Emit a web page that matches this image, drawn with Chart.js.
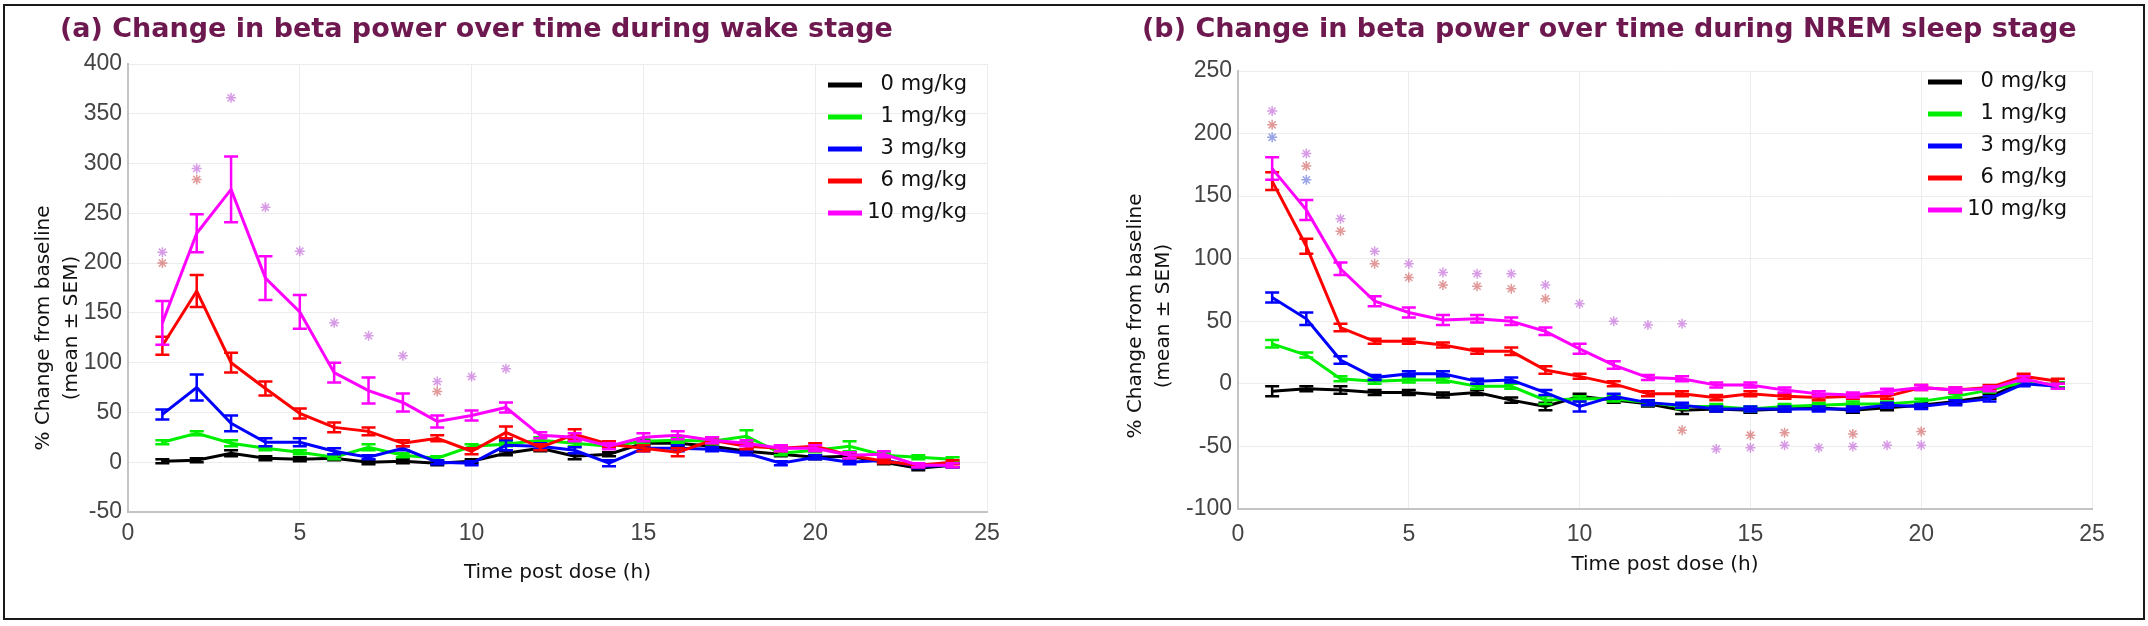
<!DOCTYPE html>
<html>
<head>
<meta charset="utf-8">
<script src="https://cdn.jsdelivr.net/npm/chart.js@4.4.0/dist/chart.umd.min.js"></script>
<style>
  html, body { margin: 0; padding: 0; background: #fff; }
  #page { position: relative; width: 2148px; height: 626px; overflow: hidden; background: #fff; }
  canvas { position: absolute; top: 0; }
  .ttl { position: absolute; top: 12px; font: bold 27px "DejaVu Sans"; color: #6e1850; white-space: nowrap; line-height: 32px; }
  #frame { position: absolute; left: 3px; top: 4px; width: 2138px; height: 612px; border: 2px solid #1a1a1a; pointer-events: none; }
</style>
</head>
<body>
<div id="page">
  <canvas id="wake" width="1074" height="626" style="left:0"></canvas>
  <canvas id="nrem" width="1074" height="626" style="left:1074px"></canvas>
  <div class="ttl" style="left:60px">(a) Change in beta power over time during wake stage</div>
  <div class="ttl" style="left:1142px">(b) Change in beta power over time during NREM sleep stage</div>
  <div id="frame"></div>
</div>
<script>
const hours = [1, 2, 3, 4, 5, 6, 7, 8, 9, 10, 11, 12, 13, 14, 15, 16, 17, 18, 19, 20, 21, 22, 23, 24];
const doses = ['0 mg/kg', '1 mg/kg', '3 mg/kg', '6 mg/kg', '10 mg/kg'];
const doseColors = ['#000000', '#00ee00', '#0000ff', '#ff0000', '#ff00ff'];

const xTickValues = [0, 5, 10, 15, 20, 25];
const wakeYTicks = [-50, 0, 50, 100, 150, 200, 250, 300, 350, 400];
const nremYTicks = [-100, -50, 0, 50, 100, 150, 200, 250];

// (a) wake stage, mean and SEM
const wake0 = [1, 2, 9, 4, 3, 4, 0, 1, -1, 1, 9, 14, 6, 8, 19, 19, 16, 11, 8, 5, 6, 0, -6, -3];
const wake0Sem = [2, 2, 3, 2, 2, 2, 2, 2, 2, 2, 2, 3, 3, 2, 3, 3, 2, 2, 2, 2, 2, 2, 2, 2];
const wake1 = [20, 29, 19, 14, 10, 5, 15, 7, 4, 16, 18, 22, 19, 16, 21, 22, 21, 26, 9, 12, 16, 7, 5, 3];
const wake1Sem = [2, 2, 3, 2, 2, 2, 3, 2, 2, 2, 2, 3, 3, 2, 3, 3, 3, 6, 2, 2, 5, 2, 2, 2];
const wake3 = [48, 75, 39, 20, 20, 11, 5, 14, 0, -1, 17, 16, 12, -1, 14, 14, 13, 9, -1, 5, 0, 2, -4, -3];
const wake3Sem = [5, 13, 8, 4, 4, 3, 2, 2, 2, 2, 5, 3, 3, 3, 3, 3, 2, 2, 2, 2, 2, 2, 2, 2];
const wake6 = [117, 172, 100, 74, 49, 35, 31, 19, 24, 11, 30, 15, 28, 18, 14, 10, 22, 16, 14, 16, 7, 1, -3, 0];
const wake6Sem = [9, 16, 10, 7, 5, 5, 4, 3, 3, 3, 6, 3, 5, 3, 3, 4, 3, 3, 3, 3, 3, 2, 2, 2];
const wake10 = [140, 230, 274, 185, 151, 90, 72, 60, 41, 47, 55, 27, 25, 16, 25, 27, 22, 19, 14, 14, 7, 8, -3, -3];
const wake10Sem = [22, 19, 33, 22, 17, 10, 13, 9, 6, 5, 5, 3, 4, 3, 4, 4, 3, 3, 3, 3, 3, 3, 2, 2];
// significance markers [hour, height]
const wakeStar6 = [[1, 200], [2, 284], [9, 71]];
const wakeStar10 = [[1, 211], [2, 295], [3, 366], [4, 256], [5, 212], [6, 140], [7, 127], [8, 107], [9, 81], [10, 86], [11, 94]];

// (b) NREM sleep stage, mean and SEM
const nrem0 = [-6, -4, -5, -7, -7, -9, -7, -13, -18, -10, -13, -16, -21, -20, -21, -20, -19, -21, -19, -17, -14, -10, 1, -1];
const nrem0Sem = [4, 2, 3, 2, 2, 2, 2, 2, 3, 2, 2, 2, 3, 2, 2, 2, 2, 2, 2, 2, 2, 2, 2, 2];
const nrem1 = [32, 23, 4, 2, 3, 3, -2, -2, -13, -12, -12, -15, -18, -18, -20, -18, -17, -16, -16, -14, -10, -5, 1, -1];
const nrem1Sem = [3, 2, 2, 2, 2, 2, 2, 2, 3, 2, 2, 2, 2, 2, 2, 2, 2, 2, 2, 2, 2, 2, 2, 2];
const nrem3 = [69, 52, 19, 5, 8, 8, 2, 3, -7, -18, -10, -15, -17, -20, -20, -20, -20, -20, -17, -18, -15, -12, 0, -2];
const nrem3Sem = [4, 5, 3, 2, 2, 2, 2, 2, 2, 4, 2, 2, 2, 2, 2, 2, 2, 2, 2, 2, 2, 2, 2, 2];
const nrem6 = [162, 110, 45, 34, 34, 31, 26, 26, 11, 6, 0, -8, -8, -11, -8, -10, -11, -10, -10, -3, -5, -3, 6, 2];
const nrem6Sem = [7, 6, 3, 2, 2, 2, 2, 3, 3, 2, 2, 2, 2, 2, 2, 2, 2, 2, 2, 2, 2, 2, 2, 2];
const nrem10 = [172, 139, 92, 66, 57, 51, 52, 50, 42, 28, 15, 5, 4, -1, -1, -5, -8, -9, -6, -3, -5, -4, 4, -2];
const nrem10Sem = [9, 8, 5, 4, 4, 4, 3, 3, 3, 4, 3, 2, 2, 2, 2, 2, 2, 2, 2, 2, 2, 2, 2, 2];
const nremStar3 = [[1, 197], [2, 163]];
const nremStar6 = [[1, 207], [2, 174], [3, 122], [4, 96], [5, 85], [6, 79], [7, 78], [8, 76], [9, 68], [13, -37], [15, -41], [16, -39], [18, -40], [20, -38]];
const nremStar10 = [[1, 218], [2, 184], [3, 132], [4, 106], [5, 96], [6, 89], [7, 88], [8, 88], [9, 79], [10, 64], [11, 50], [12, 47], [13, 48],
  [14, -52], [15, -51], [16, -49], [17, -51], [18, -50], [19, -49], [20, -49]];

const starColors = { 3: 'rgba(70,90,210,0.55)', 6: 'rgba(200,70,70,0.55)', 10: 'rgba(190,90,215,0.6)' };

// error bars with caps, drawn right after each line
const errorBars = {
  id: 'errorBars',
  afterDatasetDraw(chart, args) {
    const ds = chart.data.datasets[args.index];
    if (!ds.sem) return;
    const y = chart.scales.y, ctx = chart.ctx;
    ctx.save();
    ctx.strokeStyle = ds.borderColor;
    ctx.lineWidth = 2.5;
    args.meta.data.forEach((pt, i) => {
      const v = ds.data[i].y, e = ds.sem[i];
      const top = y.getPixelForValue(v + e), bot = y.getPixelForValue(v - e);
      ctx.beginPath();
      ctx.moveTo(pt.x, top); ctx.lineTo(pt.x, bot);
      ctx.moveTo(pt.x - 7, top); ctx.lineTo(pt.x + 7, top);
      ctx.moveTo(pt.x - 7, bot); ctx.lineTo(pt.x + 7, bot);
      ctx.stroke();
    });
    ctx.restore();
  }
};

// legend inside the plot, text right aligned like the original
const doseLegend = {
  id: 'doseLegend',
  afterDatasetsDraw(chart, args, opts) {
    const { ctx, chartArea } = chart;
    ctx.save();
    ctx.font = '21px "DejaVu Sans"';
    ctx.textAlign = 'right';
    ctx.textBaseline = 'middle';
    chart.data.datasets.filter(d => d.sem).forEach((d, i) => {
      const yy = chartArea.top + opts.top + i * opts.step;
      ctx.strokeStyle = d.borderColor;
      ctx.lineWidth = 5;
      ctx.beginPath();
      ctx.moveTo(chartArea.right - opts.lineStart, yy);
      ctx.lineTo(chartArea.right - opts.lineEnd, yy);
      ctx.stroke();
      ctx.fillStyle = '#111';
      ctx.fillText(d.label, chartArea.right - opts.textRight, yy);
    });
    ctx.restore();
  }
};

// two line rotated y title
const sideTitle = {
  id: 'sideTitle',
  afterDraw(chart, args, opts) {
    const ctx = chart.ctx;
    ctx.save();
    ctx.font = '20px "DejaVu Sans"';
    ctx.fillStyle = '#111';
    ctx.textAlign = 'center';
    ctx.textBaseline = 'middle';
    opts.lines.forEach((t, i) => {
      ctx.save();
      ctx.translate(opts.x[i], opts.y);
      ctx.rotate(-Math.PI / 2);
      ctx.fillText(t, 0, 0);
      ctx.restore();
    });
    ctx.restore();
  }
};

const tickFont = { family: '"Liberation Sans Narrow", "Liberation Sans", Arial', size: 23 };

function makeChart(id, means, sems, stars, yTicks, box) {
  const datasets = means.map((m, i) => ({
    label: doses[i],
    data: hours.map((h, j) => ({ x: h, y: m[j] })),
    sem: sems[i],
    borderColor: doseColors[i],
    backgroundColor: doseColors[i],
    borderWidth: 3,
    pointRadius: 0,
    tension: 0,
    fill: false,
    order: 5 - i
  }));
  stars.forEach(s => {
    datasets.push({
      data: s.pts.map(p => ({ x: p[0], y: p[1] })),
      showLine: false,
      pointStyle: 'star',
      pointRadius: 5,
      pointBorderWidth: 1.5,
      pointBorderColor: s.color,
      borderColor: s.color,
      order: 0
    });
  });

  return new Chart(document.getElementById(id), {
    type: 'line',
    data: { datasets: datasets },
    plugins: [errorBars, doseLegend, sideTitle],
    options: {
      responsive: false,
      animation: false,
      events: [],
      layout: { padding: { top: box.top, right: box.right, bottom: 0, left: 0 } },
      plugins: {
        legend: { display: false },
        tooltip: { enabled: false },
        doseLegend: box.legend,
        sideTitle: { lines: ['% Change from baseline', '(mean \u00b1 SEM)'], x: box.titleX, y: box.titleY }
      },
      scales: {
        x: {
          type: 'linear', min: 0, max: 25,
          afterBuildTicks: s => { s.ticks = xTickValues.map(v => ({ value: v })); },
          afterFit: s => { s.height = box.xh; },
          ticks: { font: tickFont, color: '#444', padding: box.xPad },
          grid: { color: '#ececec', drawTicks: false },
          border: { color: '#c4c4c4', width: 2 },
          title: { display: true, text: 'Time post dose (h)', color: '#111',
                   font: { family: '"DejaVu Sans"', size: 20 }, padding: { top: 0, bottom: box.xTitlePad } }
        },
        y: {
          min: yTicks[0], max: yTicks[yTicks.length - 1],
          afterBuildTicks: s => { s.ticks = yTicks.map(v => ({ value: v })); },
          afterFit: s => { s.width = box.yw; },
          ticks: { font: tickFont, color: '#444', padding: 6 },
          grid: { color: '#ececec', drawTicks: false },
          border: { color: '#c4c4c4', width: 2 }
        }
      }
    }
  });
}

makeChart('wake',
  [wake0, wake1, wake3, wake6, wake10],
  [wake0Sem, wake1Sem, wake3Sem, wake6Sem, wake10Sem],
  [{ pts: wakeStar6, color: starColors[6] }, { pts: wakeStar10, color: starColors[10] }],
  wakeYTicks,
  { top: 64, right: 87, yw: 128, xh: 114, xPad: 8, xTitlePad: 41,
    titleX: [44, 72], titleY: 328,
    legend: { top: 21, step: 32, lineStart: 159, lineEnd: 125, textRight: 20 } });

makeChart('nrem',
  [nrem0, nrem1, nrem3, nrem6, nrem10],
  [nrem0Sem, nrem1Sem, nrem3Sem, nrem6Sem, nrem10Sem],
  [{ pts: nremStar3, color: starColors[3] }, { pts: nremStar6, color: starColors[6] }, { pts: nremStar10, color: starColors[10] }],
  nremYTicks,
  { top: 71, right: 56, yw: 164, xh: 117, xPad: 12, xTitlePad: 49,
    titleX: [62, 90], titleY: 316,
    legend: { top: 11, step: 32, lineStart: 164, lineEnd: 130, textRight: 25 } });
</script>
</body>
</html>
